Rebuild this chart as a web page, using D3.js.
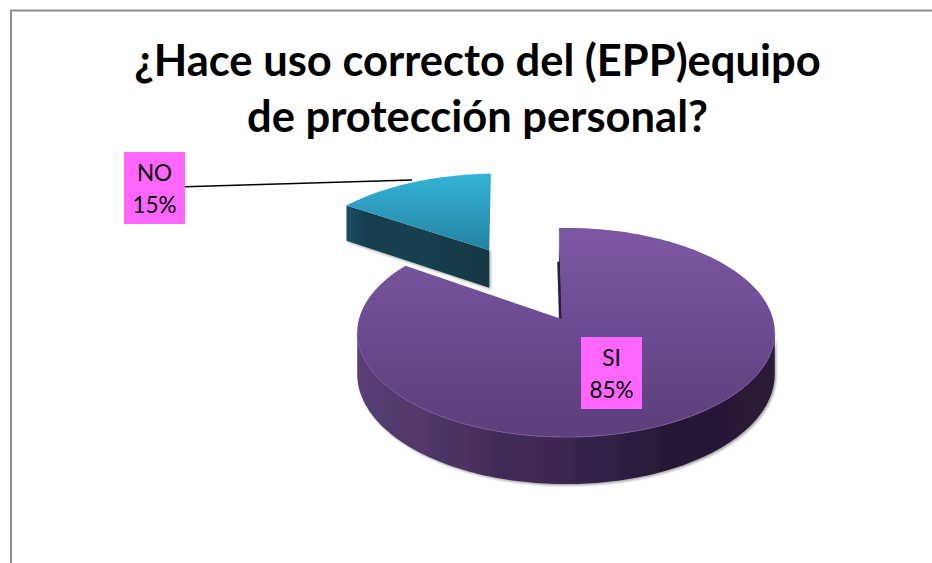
<!DOCTYPE html>
<html lang="es">
<head>
<meta charset="utf-8">
<title>EPP</title>
<script src="https://d3js.org/d3.v7.min.js"></script>
<style>
  html, body { margin: 0; padding: 0; background: #fff; }
  svg { display: block; }
</style>
</head>
<body>
<div id="my_dataviz"></div>
<script>
  // data
  const categories = ["SI", "NO"];
  const percents = [85, 15];
  const titleLines = ["¿Hace uso correcto del (EPP)equipo", "de protección personal?"];

  const width = 932, height = 563;

  // pie is drawn lying down, seen in perspective
  const apexX = 561.5, apexY = 319;
  const R = 207, flat = 102.8, persp = 0.129, depth = 41;
  const explodeNO = 0.837;
  const rimShift = 4.5;   // main slice ellipse sits a little right of its apex
  const startDeg = -2.2;

  const svg = d3.select("#my_dataviz").append("svg")
    .attr("width", width)
    .attr("height", height);

  const defs = svg.append("defs");

  function gradient(id, x2, y2, stops) {
    const g = defs.append("linearGradient").attr("id", id)
      .attr("x1", 0).attr("y1", 0).attr("x2", x2).attr("y2", y2);
    g.selectAll("stop").data(stops).join("stop")
      .attr("offset", d => d[0])
      .attr("stop-color", d => d[1]);
  }
  gradient("topSI", 0, 1, [[0, "#7c58a2"], [0.5, "#6a4b90"], [1, "#5c3f7a"]]);
  gradient("topNO", 0, 1, [[0, "#34b2d8"], [1, "#2483a2"]]);
  gradient("wallSI", 1, 0, [[0, "#5a3f78"], [0.08, "#503a6e"], [0.14, "#56386a"], [0.2, "#4a3566"],
    [0.27, "#4b2f5e"], [0.34, "#3f2c58"], [0.42, "#432a56"], [0.55, "#35234b"],
    [0.62, "#2f2044"], [0.75, "#251836"], [1, "#2b1a36"]]);
  gradient("wallNO", 1, 0, [[0, "#1c4e60"], [0.15, "#123e4e"], [0.5, "#15404f"], [1, "#123844"]]);

  const shadow = defs.append("filter").attr("id", "soft")
    .attr("x", "-5%").attr("y", "-5%").attr("width", "110%").attr("height", "110%");
  shadow.append("feDropShadow")
    .attr("dx", 1.5).attr("dy", 1.5).attr("stdDeviation", 1.2)
    .attr("flood-color", "#000").attr("flood-opacity", 0.35);

  // outer chart frame, only top and left show in the crop
  svg.append("path")
    .attr("d", d3.line()([[11, height], [11, 10.5], [width, 10.5]]))
    .attr("fill", "none")
    .attr("stroke", "#8e8e8e")
    .attr("stroke-width", 2);

  // ground coords u (right), v (far) -> screen
  function project(u, v, z, shift) {
    const w = 1 + persp * v;
    return [apexX + R * u / w + shift * Math.hypot(u, v),
            apexY - flat * v / w + z * depth / w];
  }

  const slices = d3.pie().sort(null)
    .startAngle(startDeg * Math.PI / 180)
    .endAngle(startDeg * Math.PI / 180 + 2 * Math.PI)(percents);

  const line = d3.line();

  function rimPoints(a0, a1, off, z, shift) {
    const n = Math.max(2, Math.ceil(Math.abs(a1 - a0) / 0.02));
    return d3.range(n + 1).map(i => {
      const a = a0 + (a1 - a0) * i / n;
      return project(off[0] + Math.sin(a), off[1] + Math.cos(a), z, shift);
    });
  }

  // SI slice
  const si = slices[0];
  const siOff = [0, 0];
  const frontA0 = Math.PI - Math.acos(persp);
  const frontA1 = Math.PI + Math.acos(persp);

  const gSI = svg.append("g").attr("filter", "url(#soft)");

  // side wall facing the gap
  const innerTop = [project(0, 0, 0, rimShift), rimPoints(si.startAngle, si.startAngle, siOff, 0, rimShift)[0]];
  const innerBot = [project(0, 0, 1, rimShift), rimPoints(si.startAngle, si.startAngle, siOff, 1, rimShift)[0]];
  gSI.append("path")
    .attr("d", line([...innerTop, ...innerBot.reverse()]) + "Z")
    .attr("fill", "#2a1a3c");

  // the wall shows as a thicker dark strip near the apex
  gSI.append("path")
    .attr("d", line([
      project(0, 0, 0, rimShift),
      project(0.6 * Math.sin(si.startAngle), 0.6 * Math.cos(si.startAngle), 0, rimShift)
    ]))
    .attr("transform", "translate(-1,0)")
    .attr("fill", "none")
    .attr("stroke", "#2a1a3c")
    .attr("stroke-width", 3);

  // outer rim wall
  const rimTop = rimPoints(frontA0, frontA1, siOff, 0, rimShift);
  const rimBot = rimPoints(frontA0, frontA1, siOff, 1, rimShift);
  gSI.append("path")
    .attr("d", line([...rimTop, ...rimBot.reverse()]) + "Z")
    .attr("fill", "url(#wallSI)");

  // top face
  svg.append("path")
    .attr("d", line([project(0, 0, 0, rimShift), ...rimPoints(si.startAngle, si.endAngle, siOff, 0, rimShift)]) + "Z")
    .attr("fill", "url(#topSI)");

  // highlight along the front of the top face
  svg.append("path")
    .attr("d", line(rimPoints(frontA0, frontA1, siOff, 0, rimShift)))
    .attr("fill", "none")
    .attr("stroke", "#7a55a0")
    .attr("stroke-width", 1);

  // NO slice, pulled out along its middle angle
  const no = slices[1];
  const mid = (no.startAngle + no.endAngle) / 2;
  const noOff = [explodeNO * Math.sin(mid), explodeNO * Math.cos(mid)];
  const gNO = svg.append("g").attr("transform", "translate(5,0)");

  const edgeTop = [project(noOff[0], noOff[1], 0, 0), rimPoints(no.startAngle, no.startAngle, noOff, 0, 0)[0]];
  const edgeBot = [project(noOff[0], noOff[1], 1, 0), rimPoints(no.startAngle, no.startAngle, noOff, 1, 0)[0]];
  gNO.append("path")
    .attr("d", line([...edgeTop, ...edgeBot.reverse()]) + "Z")
    .attr("fill", "url(#wallNO)")
    .attr("filter", "url(#soft)");

  gNO.append("path")
    .attr("d", line([project(noOff[0], noOff[1], 0, 0), ...rimPoints(no.startAngle, no.endAngle, noOff, 0, 0)]) + "Z")
    .attr("fill", "url(#topNO)");

  // leader line for NO
  svg.append("line")
    .attr("x1", 185).attr("y1", 186.7)
    .attr("x2", 412).attr("y2", 180)
    .attr("stroke", "#000")
    .attr("stroke-width", 1.4);

  // labels
  const labelBox = { SI: [581, 337], NO: [124, 152] };
  const labels = svg.selectAll("g.label")
    .data(categories)
    .join("g")
      .attr("class", "label")
      .attr("transform", d => `translate(${labelBox[d][0]},${labelBox[d][1]})`);
  labels.append("rect")
    .attr("width", 61)
    .attr("height", 72)
    .attr("fill", "#ff66ff");
  labels.append("text")
    .attr("x", 30.5).attr("y", 29)
    .attr("text-anchor", "middle")
    .style("font", "22.5px Lato, sans-serif")
    .attr("fill", "#000")
    .text(d => d);
  labels.append("text")
    .attr("x", 30.5).attr("y", 61)
    .attr("text-anchor", "middle")
    .style("font", "22.5px Lato, sans-serif")
    .attr("fill", "#000")
    .text((d, i) => percents[i] + "%");

  // title
  svg.selectAll("text.title")
    .data(titleLines)
    .join("text")
      .attr("class", "title")
      .attr("x", 477.5)
      .attr("y", (d, i) => 76 + i * 56)
      .attr("text-anchor", "middle")
      .style("font", "bold 43.5px Lato, sans-serif")
      .attr("fill", "#000")
      .text(d => d);
</script>
</body>
</html>
